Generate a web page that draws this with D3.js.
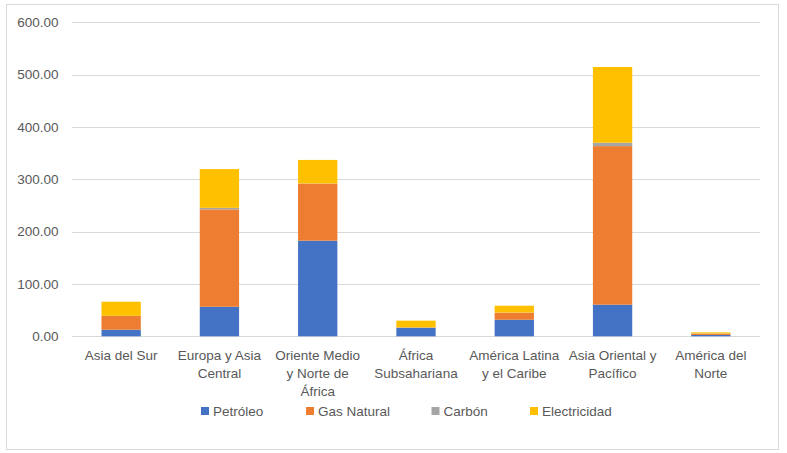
<!DOCTYPE html>
<html>
<head>
<meta charset="utf-8">
<script src="https://cdn.jsdelivr.net/npm/d3@7"></script>
<style>
  body { margin: 0; background: #fff; }
  svg { display: block; font-family: "Liberation Sans", Arial, sans-serif; }
</style>
</head>
<body>
<svg id="chart" width="787" height="453"></svg>
<script>
// categories (each entry = label lines as shown under the axis)
const categories = ["Asia del Sur", "Europa y Asia Central", "Oriente Medio y Norte de África",
  "África Subsahariana", "América Latina y el Caribe", "Asia Oriental y Pacífico", "América del Norte"];
const categoryLines = [
  ["Asia del Sur"],
  ["Europa y Asia", "Central"],
  ["Oriente Medio", "y Norte de", "África"],
  ["África", "Subsahariana"],
  ["América Latina", "y el Caribe"],
  ["Asia Oriental y", "Pacífico"],
  ["América del", "Norte"]
];

// series values
const seriesNames = ["Petróleo", "Gas Natural", "Carbón", "Electricidad"];
const petroleo     = [12.6, 56.5, 182.7, 16.4, 31.7, 60.4, 2.5];
const gasNatural   = [26.2, 186, 109, 0.5, 13.3, 303, 2.5];
const carbon       = [0.3, 3, 0.3, 0.1, 0.3, 6.5, 0.5];
const electricidad = [27, 74, 45, 12.9, 13.2, 144.7, 2];
const colors = ["#4472C4", "#ED7D31", "#A5A5A5", "#FFC000"];

// y tick labels
const yTicks = [0, 100, 200, 300, 400, 500, 600];

const svg = d3.select("#chart");

// chart frame
svg.append("rect")
  .attr("x", 6.5).attr("y", 4.5)
  .attr("width", 772).attr("height", 445)
  .attr("fill", "#fff").attr("stroke", "#d9d9d9");

const margin = { left: 72, right: 27, top: 22, bottom: 117 };
const x = d3.scaleBand()
  .domain(categories)
  .range([margin.left, 760])
  .paddingInner(0.6).paddingOuter(0.3);

const y = d3.scaleLinear()
  .domain([0, 600])
  .range([336.3, 22.3]);

// gridlines
svg.append("g")
  .selectAll("line")
  .data(yTicks)
  .join("line")
    .attr("x1", 72).attr("x2", 760)
    .attr("y1", d => Math.round(y(d)) + 0.5)
    .attr("y2", d => Math.round(y(d)) + 0.5)
    .attr("stroke", "#d9d9d9");

// y labels
svg.append("g")
  .selectAll("text")
  .data(yTicks)
  .join("text")
    .attr("x", 58.5)
    .attr("y", d => y(d))
    .attr("dy", "0.35em")
    .attr("text-anchor", "end")
    .attr("font-size", "13.5px")
    .attr("fill", "#595959")
    .text(d => d3.format(".2f")(d));

// stacked data
const rows = categories.map((c, i) => ({
  cat: c,
  "Petróleo": petroleo[i],
  "Gas Natural": gasNatural[i],
  "Carbón": carbon[i],
  "Electricidad": electricidad[i]
}));
const stacked = d3.stack().keys(seriesNames)(rows);

svg.append("g")
  .selectAll("g")
  .data(stacked)
  .join("g")
    .attr("fill", (d, i) => colors[i])
  .selectAll("rect")
  .data(d => d)
  .join("rect")
    .attr("x", d => x(d.data.cat))
    .attr("width", x.bandwidth())
    .attr("y", d => y(d[1]))
    .attr("height", d => y(d[0]) - y(d[1]));

// category labels
const catG = svg.append("g")
  .selectAll("text")
  .data(categories)
  .join("text")
    .attr("x", d => x(d) + x.bandwidth() / 2)
    .attr("y", 355.7)
    .attr("text-anchor", "middle")
    .attr("font-size", "13.5px")
    .attr("fill", "#595959");
catG.selectAll("tspan")
  .data((d, i) => categoryLines[i])
  .join("tspan")
    .attr("x", function() { return this.parentNode.getAttribute("x"); })
    .attr("dy", (d, j) => j === 0 ? "0.35em" : "18px")
    .text(d => d);

// legend
const legendX = [201, 306, 431.5, 530];
const legend = svg.append("g")
  .selectAll("g")
  .data(seriesNames)
  .join("g")
    .attr("transform", (d, i) => `translate(${legendX[i]},411)`);
legend.append("rect")
  .attr("x", 0).attr("y", -4)
  .attr("width", 8).attr("height", 8)
  .attr("fill", (d, i) => colors[i]);
legend.append("text")
  .attr("x", 12).attr("y", 0)
  .attr("dy", "0.35em")
  .attr("font-size", "13.5px")
  .attr("fill", "#595959")
  .text(d => d);
</script>
</body>
</html>
